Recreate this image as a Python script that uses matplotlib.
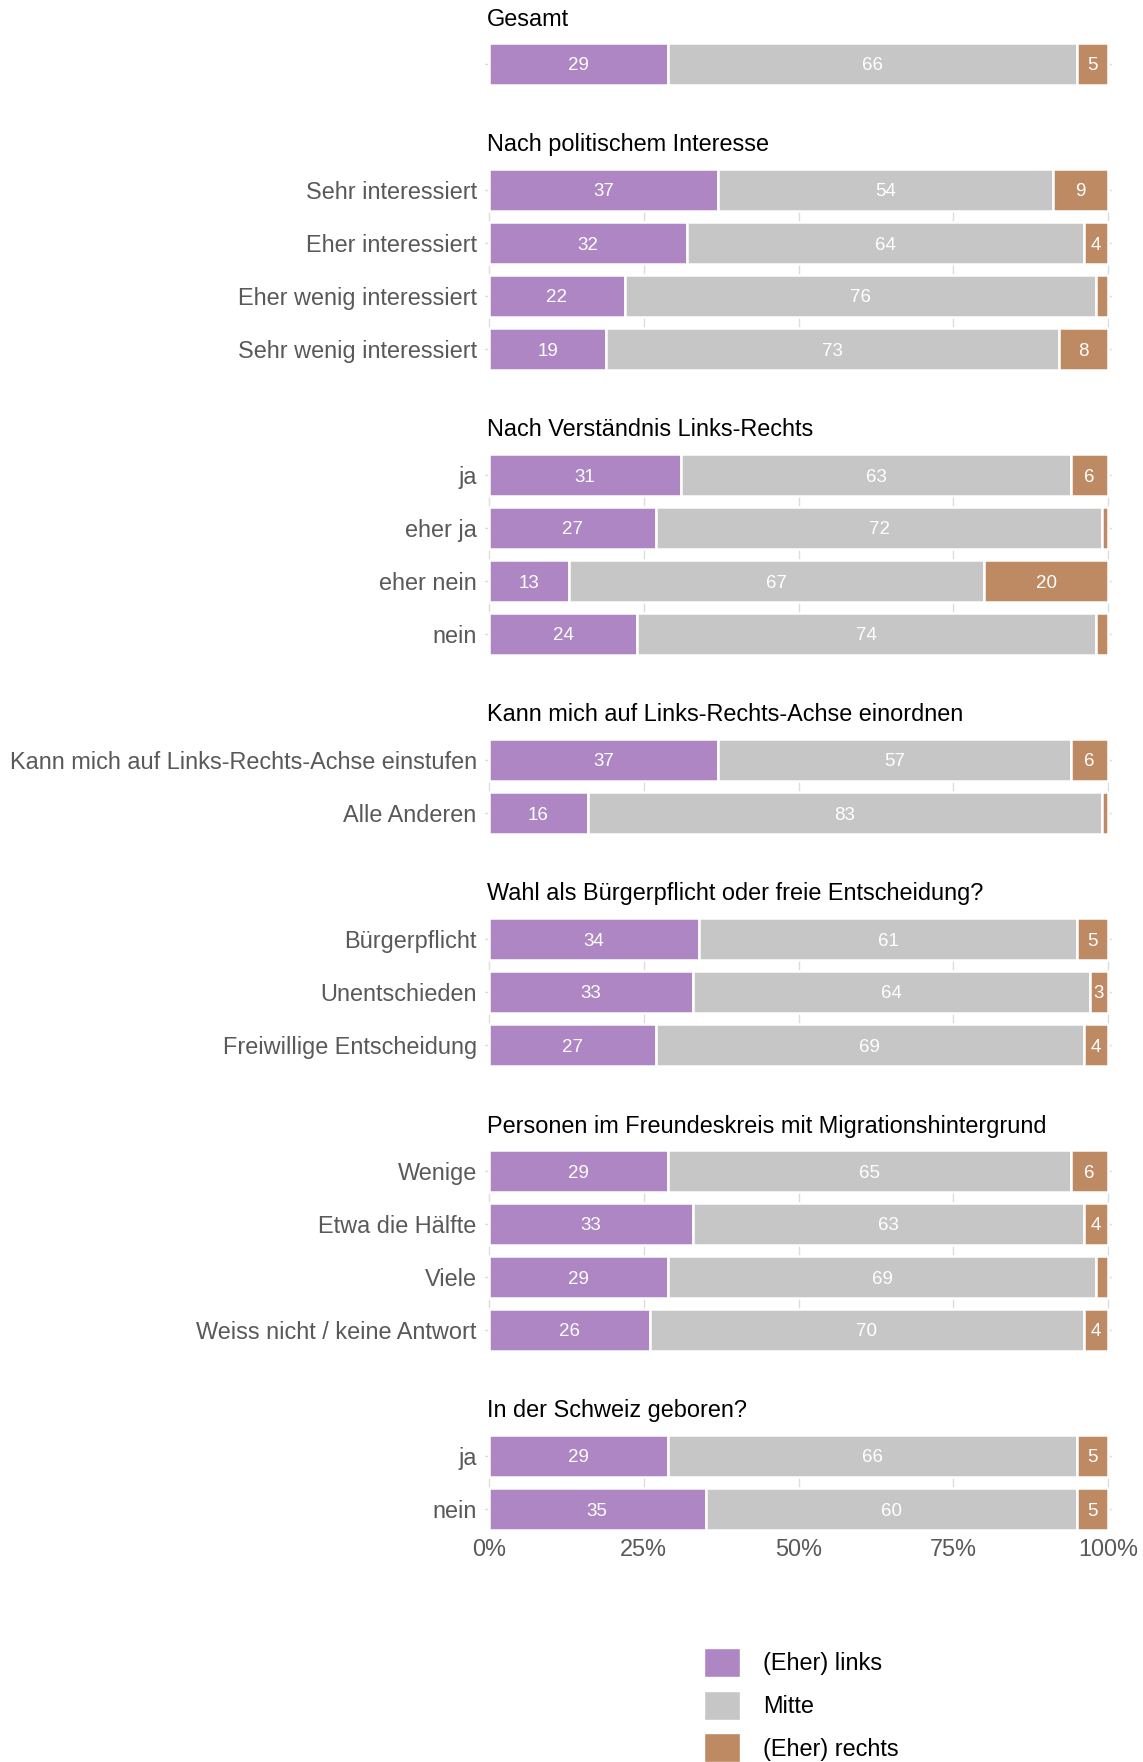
import matplotlib.pyplot as plt
import matplotlib.patches as patches

plt.rcParams["font.family"] = ["Liberation Sans", "DejaVu Sans"]

# Data
panel_titles = [
    "Gesamt",
    "Nach politischem Interesse",
    "Nach Verständnis Links-Rechts",
    "Kann mich auf Links-Rechts-Achse einordnen",
    "Wahl als Bürgerpflicht oder freie Entscheidung?",
    "Personen im Freundeskreis mit Migrationshintergrund",
    "In der Schweiz geboren?",
]
panel_rows = [
    [""],
    ["Sehr interessiert", "Eher interessiert", "Eher wenig interessiert", "Sehr wenig interessiert"],
    ["ja", "eher ja", "eher nein", "nein"],
    ["Kann mich auf Links-Rechts-Achse einstufen", "Alle Anderen"],
    ["Bürgerpflicht", "Unentschieden", "Freiwillige Entscheidung"],
    ["Wenige", "Etwa die Hälfte", "Viele", "Weiss nicht / keine Antwort"],
    ["ja", "nein"],
]
links = [[29], [37, 32, 22, 19], [31, 27, 13, 24], [37, 16], [34, 33, 27], [29, 33, 29, 26], [29, 35]]
mitte = [[66], [54, 64, 76, 73], [63, 72, 67, 74], [57, 83], [61, 64, 69], [65, 63, 69, 70], [66, 60]]
rechts = [[5], [9, 4, 2, 8], [6, 1, 20, 2], [6, 1], [5, 3, 4], [6, 4, 2, 4], [5, 5]]

series_names = ["(Eher) links", "Mitte", "(Eher) rechts"]
colors = ["#ae86c4", "#c6c6c6", "#bd8a64"]
tick_vals = [0, 25, 50, 75, 100]
tick_labels = ["0%", "25%", "50%", "75%", "100%"]

W, H = 1143, 1762
fig = plt.figure(figsize=(W / 100, H / 100), dpi=100)

# layout in pixels
left_px, right_px = 485, 1112
top0 = 43
row_px = 53
bar_px = 42
gap_px = 84
bar_h = bar_px / row_px
fs = 16.9

label_color = "#595959"
grid_color = "#dcdcdc"

top = top0
axes = []
for title, rows, l, m, r in zip(panel_titles, panel_rows, links, mitte, rechts):
    n = len(rows)
    h_px = (n - 1) * row_px + bar_px
    ax = fig.add_axes([left_px / W, 1 - (top + h_px) / H,
                       (right_px - left_px) / W, h_px / H])
    ys = list(range(n))
    lefts = [0] * n
    for vals, col in zip([l, m, r], colors):
        ax.barh(ys, vals, left=lefts, height=bar_h, color=col,
                edgecolor="white", linewidth=1.8, zorder=2)
        for y, v, x0 in zip(ys, vals, lefts):
            if v >= 3:
                ax.text(x0 + v / 2, y, str(v), ha="center", va="center_baseline",
                        color="white", fontsize=13.5, zorder=3)
        lefts = [a + b for a, b in zip(lefts, vals)]

    ax.set_xlim(-0.6, 100.6)
    ax.set_ylim(n - 1 + bar_h / 2, -bar_h / 2)
    ax.set_yticks(ys)
    ax.set_yticklabels(rows, fontsize=fs, color=label_color)
    ax.set_xticks(tick_vals)
    ax.set_xticklabels([])
    ax.tick_params(axis="both", length=0, pad=6)
    ax.grid(True, color=grid_color, linewidth=1.0)
    ax.set_axisbelow(True)
    for s in ax.spines.values():
        s.set_visible(False)

    fig.text(487 / W, 1 - (top - 24) / H, title, ha="left", va="center",
             fontsize=fs, color="black")
    axes.append(ax)
    top += h_px + gap_px

axes[-1].set_xticklabels(tick_labels, fontsize=fs, color=label_color)
axes[-1].tick_params(axis="x", pad=6)

handles = [patches.Patch(facecolor=c, edgecolor="white", label=s)
           for c, s in zip(colors, series_names)]
fig.legend(handles=handles, loc="upper left",
           bbox_to_anchor=(704 / W, 1 - 1648 / H), frameon=False,
           fontsize=fs, handlelength=1.55, handleheight=1.55,
           handletextpad=0.95, labelspacing=0.56, borderpad=0, borderaxespad=0)

fig.savefig("out.png", dpi=100)
